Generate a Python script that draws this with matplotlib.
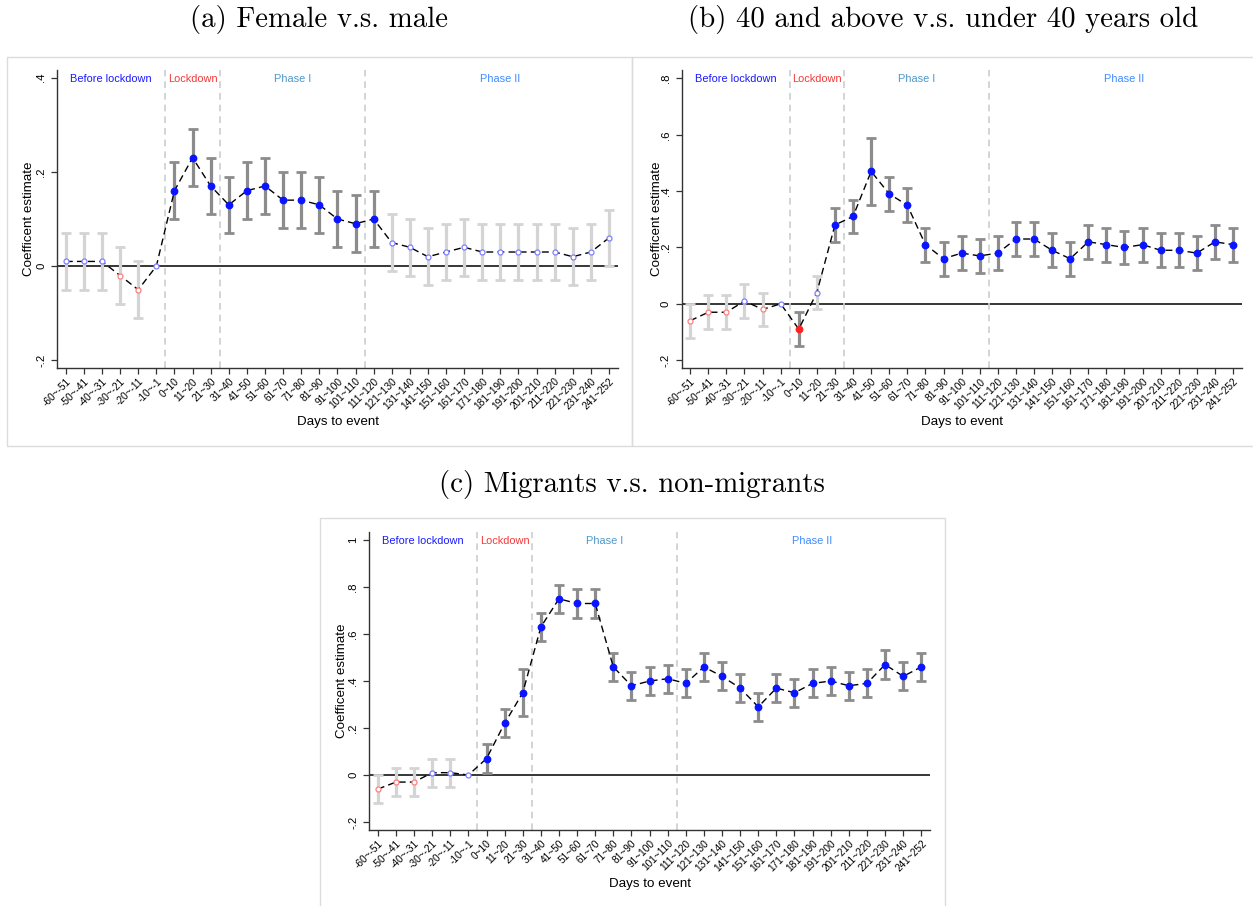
import matplotlib
matplotlib.use("Agg")
import matplotlib.pyplot as plt
import numpy as np
from matplotlib.patches import Rectangle

plt.rcParams['font.family'] = ['Liberation Sans', 'DejaVu Sans']

# ---------------------------------------------------------------- data
day_bins = ["-60~-51", "-50~-41", "-40~-31", "-30~-21", "-20~-11", "-10~-1",
            "0~10", "11~20", "21~30", "31~40", "41~50", "51~60", "61~70",
            "71~80", "81~90", "91~100", "101~110", "111~120", "121~130",
            "131~140", "141~150", "151~160", "161~170", "171~180", "181~190",
            "191~200", "201~210", "211~220", "221~230", "231~240", "241~252"]

# (a) female vs. male: point estimates and 95% CI half-widths
gender_coef = [0.01, 0.01, 0.01, -0.02, -0.05, 0.00, 0.16, 0.23, 0.17, 0.13,
               0.16, 0.17, 0.14, 0.14, 0.13, 0.10, 0.09, 0.10, 0.05, 0.04,
               0.02, 0.03, 0.04, 0.03, 0.03, 0.03, 0.03, 0.03, 0.02, 0.03, 0.06]
gender_ci = [0.06, 0.06, 0.06, 0.06, 0.06, 0.00, 0.06, 0.06, 0.06, 0.06,
             0.06, 0.06, 0.06, 0.06, 0.06, 0.06, 0.06, 0.06, 0.06, 0.06,
             0.06, 0.06, 0.06, 0.06, 0.06, 0.06, 0.06, 0.06, 0.06, 0.06, 0.06]

# (b) 40 and above vs. under 40
age_coef = [-0.06, -0.03, -0.03, 0.01, -0.02, 0.00, -0.09, 0.04, 0.28, 0.31,
            0.47, 0.39, 0.35, 0.21, 0.16, 0.18, 0.17, 0.18, 0.23, 0.23,
            0.19, 0.16, 0.22, 0.21, 0.20, 0.21, 0.19, 0.19, 0.18, 0.22, 0.21]
age_ci = [0.06, 0.06, 0.06, 0.06, 0.06, 0.00, 0.06, 0.06, 0.06, 0.06,
          0.12, 0.06, 0.06, 0.06, 0.06, 0.06, 0.06, 0.06, 0.06, 0.06,
          0.06, 0.06, 0.06, 0.06, 0.06, 0.06, 0.06, 0.06, 0.06, 0.06, 0.06]

# (c) migrants vs. non-migrants
migrant_coef = [-0.06, -0.03, -0.03, 0.01, 0.01, 0.00, 0.07, 0.22, 0.35, 0.63,
                0.75, 0.73, 0.73, 0.46, 0.38, 0.40, 0.41, 0.39, 0.46, 0.42,
                0.37, 0.29, 0.37, 0.35, 0.39, 0.40, 0.38, 0.39, 0.47, 0.42, 0.46]
migrant_ci = [0.06, 0.06, 0.06, 0.06, 0.06, 0.00, 0.06, 0.06, 0.10, 0.06,
              0.06, 0.06, 0.06, 0.06, 0.06, 0.06, 0.06, 0.06, 0.06, 0.06,
              0.06, 0.06, 0.06, 0.06, 0.06, 0.06, 0.06, 0.06, 0.06, 0.06, 0.06]

phase_names = ["Before lockdown", "Lockdown", "Phase I", "Phase II"]
phase_colors = ["#1a1aff", "#f23a3a", "#4f97c9", "#3f8cff"]
phase_centers = [2.5, 7.0, 12.5, 24.0]
phase_breaks = [5.5, 8.5, 16.5]

# ---------------------------------------------------------------- layout
W, H = 1253, 906
fig = plt.figure(figsize=(W / 100, H / 100), dpi=100)
fig.patch.set_facecolor("white")


def px_axes(left, top, right, bottom):
    return fig.add_axes([left / W, 1 - bottom / H, (right - left) / W, (bottom - top) / H])


def px_frame(left, top, right, bottom):
    fig.patches.append(Rectangle((left / W, 1 - bottom / H), (right - left) / W,
                                 (bottom - top) / H, transform=fig.transFigure,
                                 fill=False, edgecolor="#dcdcdc", lw=1.0, zorder=0))


def draw_panel(ax, coef, half, yticks, ylabels, ylim, ylabel_off):
    x = np.arange(len(day_bins))
    coef = np.asarray(coef, dtype=float)
    half = np.asarray(half, dtype=float)
    lo, hi = coef - half, coef + half
    sig = (lo > 1e-9) | (hi < -1e-9)
    has_bar = half > 0
    pos = coef >= 0

    ax.axhline(0, color="black", lw=1.1, zorder=1)
    for b in phase_breaks:
        ax.axvline(b, color="#c8d0d1", lw=1.2, ls=(0, (4, 3)), zorder=1)

    for mask, col in ((has_bar & ~sig, "#d4d4d4"), (has_bar & sig, "#8c8c8c")):
        ax.errorbar(x[mask], coef[mask], yerr=half[mask], fmt="none", ecolor=col,
                    elinewidth=2.3, capsize=3.3, capthick=2.0, zorder=2)

    ax.plot(x, coef, color="black", lw=1.0, ls=(0, (5, 3)), zorder=3)

    ax.plot(x[sig & pos], coef[sig & pos], "o", ms=4.6, color="#0a14ff", mec="#0a14ff", zorder=4)
    ax.plot(x[sig & ~pos], coef[sig & ~pos], "o", ms=4.6, color="#ff2222", mec="#ff2222", zorder=4)
    ax.plot(x[~sig & pos], coef[~sig & pos], "o", ms=3.6, mfc="white", mec="#8080ff", mew=0.9, zorder=4)
    ax.plot(x[~sig & ~pos], coef[~sig & ~pos], "o", ms=3.6, mfc="white", mec="#ff8080", mew=0.9, zorder=4)

    for name, col, cx in zip(phase_names, phase_colors, phase_centers):
        ax.text(cx, 0.97, name, color=col, fontsize=7.9, ha="center", va="center",
                transform=ax.get_xaxis_transform())

    ax.set_xlim(-0.47, 30.48)
    ax.set_ylim(*ylim)
    ax.set_xticks(x)
    ax.set_xticklabels(day_bins, rotation=45, ha="right", rotation_mode="anchor", fontsize=7.3)
    ax.set_yticks(yticks)
    ax.set_yticklabels(ylabels, rotation=90, va="center", fontsize=8.2)
    ax.tick_params(axis="both", direction="out", length=4, width=0.9, color="#333333")
    ax.tick_params(axis="x", pad=2)
    ax.tick_params(axis="y", pad=4)
    for s in ("top", "right"):
        ax.spines[s].set_visible(False)
    for s in ("left", "bottom"):
        ax.spines[s].set_color("#333333")
        ax.spines[s].set_linewidth(1.0)

    ax.set_xlabel("Days to event", fontsize=9.6, va="center")
    ax.xaxis.set_label_coords(0.5, -0.180)
    ax.set_ylabel("Coefficent estimate", fontsize=9.6, va="center")
    ax.yaxis.set_label_coords(-ylabel_off / 560.0, 0.5)


title_kw = dict(fontsize=20.8, family=["cmr10", "DejaVu Serif"], ha="center", va="center")

# (a)
px_frame(7, 57, 632, 446)
fig.text(319.5 / W, 1 - 20 / H, "(a) Female v.s. male", **title_kw)
ax_a = px_axes(57.3, 70, 617.7, 368)
draw_panel(ax_a, gender_coef, gender_ci, [-0.2, 0, 0.2, 0.4], ["-.2", "0", ".2", ".4"],
           (-0.216, 0.416), 28.3)

# (b)
px_frame(632, 57, 1262, 446)
fig.text(943 / W, 1 - 20 / H, "(b) 40 and above v.s. under 40 years old", **title_kw)
ax_b = px_axes(681.7, 70, 1241.7, 368.3)
draw_panel(ax_b, age_coef, age_ci, [-0.2, 0, 0.2, 0.4, 0.6, 0.8],
           ["-.2", "0", ".2", ".4", ".6", ".8"], (-0.229, 0.830), 25.0)

# (c)
px_frame(320, 518, 945, 912)
fig.text(632 / W, 1 - 485 / H, "(c) Migrants v.s. non-migrants", **title_kw)
ax_c = px_axes(369.3, 532.3, 930, 830)
draw_panel(ax_c, migrant_coef, migrant_ci, [-0.2, 0, 0.2, 0.4, 0.6, 0.8, 1.0],
           ["-.2", "0", ".2", ".4", ".6", ".8", "1"], (-0.234, 1.033), 27.6)

fig.savefig("out.png", dpi=100, facecolor="white")
